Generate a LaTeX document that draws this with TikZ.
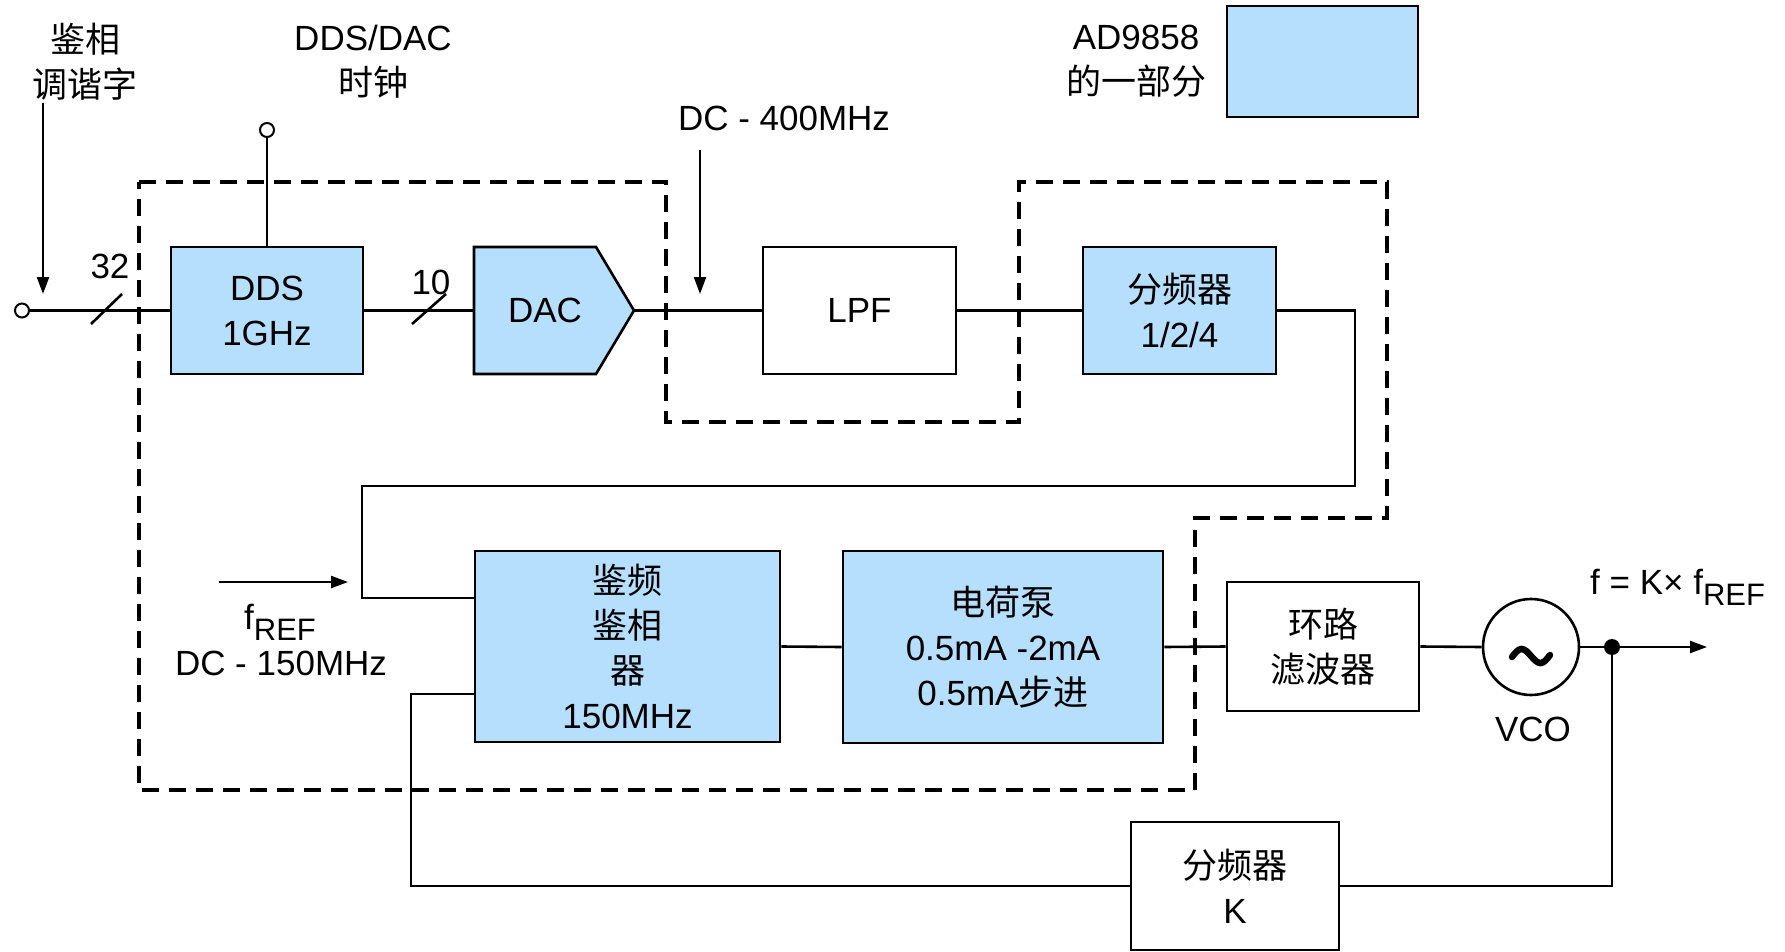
\documentclass[tikz,border=0pt]{standalone}
\usepackage{fontspec}
\setmainfont{Liberation Sans}
\newfontfamily\cjk{Noto Sans CJK SC}
\usetikzlibrary{arrows.meta}
\definecolor{adiblue}{RGB}{181,223,252}
\newcommand\subtxt[1]{\raisebox{-11pt}{\fontsize{31}{31}\selectfont #1}}
\begin{document}
\begin{tikzpicture}[x=1pt,y=-1pt,
  font=\fontsize{35}{45}\selectfont,
  wire/.style={line width=2.6pt},
  arr/.style={line width=2.2pt,-{Triangle[length=17pt,width=12pt]}},
  blk/.style={draw,line width=2.6pt,fill=adiblue,inner sep=0pt,align=center},
  wblk/.style={draw,line width=2.6pt,fill=white,inner sep=0pt,align=center},
  bound/.style={line width=3.5pt,dash pattern=on 17pt off 10pt},
  lbl/.style={inner sep=0pt,align=center},
  term/.style={circle,draw,line width=2pt,fill=white,minimum size=14pt,inner sep=0pt}
]
\useasboundingbox[fill=white] (0,0) rectangle (1785,952);

% AD9858 boundary
\draw[bound] (139,182) -- (666,182) -- (666,422) -- (1019,422) -- (1019,182)
  -- (1387,182) -- (1387,518) -- (1195,518) -- (1195,790) -- (139,790) -- cycle;

% blocks
\node[blk,minimum width=192pt,minimum height=127pt] (dds) at (267,310.5) {DDS\\1GHz};
\draw[line width=2.6pt,fill=adiblue] (474,247) -- (596,247) -- (634,310.5) -- (596,374) -- (474,374) -- cycle;
\node[lbl] (dac) at (545,310.5) {DAC};
\coordinate (dacin) at (474,310.5);
\coordinate (dacout) at (634,310.5);
\node[wblk,minimum width=193pt,minimum height=127pt] (lpf) at (859.5,310.5) {LPF};
\node[blk,minimum width=193pt,minimum height=127pt] (div) at (1179.5,310.5) {{\cjk 分频器}\\1/2/4};
\node[blk,minimum width=305pt,minimum height=191pt] (pfd) at (627.5,646.5) {{\cjk 鉴频}\\{\cjk 鉴相}\\{\cjk 器}\\150MHz};
\node[blk,minimum width=320pt,minimum height=192pt] (cp) at (1003,647) {{\cjk 电荷泵}\\0.5mA -2mA\\0.5mA{\cjk 步进}};
\node[wblk,minimum width=192pt,minimum height=129pt] (lf) at (1323,646.5) {{\cjk 环路}\\{\cjk 滤波器}};
\node[circle,draw,line width=2.6pt,minimum size=96pt,inner sep=0pt] (vco) at (1531,647) {};
\draw[line width=6.5pt,line cap=round] (1512,657) sin (1521.5,649) cos (1531,656) sin (1540.5,663) cos (1550,655);
\node[wblk,minimum width=208pt,minimum height=128pt] (divk) at (1235,886) {{\cjk 分频器}\\K};
\node[blk,minimum width=191pt,minimum height=111pt] (legend) at (1322.5,61.5) {};

% labels
\node[lbl] (twlbl) at (85,61.5) {{\cjk 鉴相}\\{\cjk 调谐字}};
\node[lbl] (clklbl) at (373,61.5) {DDS/DAC\\{\cjk 时钟}};
\node[lbl] (adlbl) at (1136,61.5) {AD9858\\{\cjk 的一部分}};
\node[lbl] (dc400) at (784,118) {DC - 400MHz};
\node[lbl,anchor=base west] (freflbl) at (244,629) {f\subtxt{REF}};
\node[lbl,anchor=base] (dc150) at (281,675) {DC - 150MHz};
\node[lbl,anchor=base west] (outlbl) at (1590,594) {f = K\texttimes{} f\subtxt{REF}};
\node[lbl] (vcolbl) at (1533,729) {VCO};
\node[lbl] (n32) at (110,266) {32};
\node[lbl] (n10) at (431,282) {10};

% terminals
\node[term] (inp) at (22,310.5) {};
\node[term] (clk) at (267,130) {};

% wires
\draw[wire] (inp) -- (dds.west);
\draw[wire] (91,324) -- (122,294);
\draw[wire] (clk) -- (dds.north);
\draw[wire] (dds.east) -- (dacin);
\draw[wire] (412,324) -- (446,294);
\draw[wire] (dacout) -- (lpf.west);
\draw[wire] (lpf.east) -- (div.west);
\coordinate (r1) at (1355,310.5);
\coordinate (r2) at (1355,486);
\coordinate (r3) at (362,486);
\coordinate (r4) at (362,598);
\draw[wire] (div.east) -- (r1) -- (r2) -- (r3) -- (r4) -- (pfd.west |- r4);
\draw[wire] (pfd.east) -- (cp.west);
\draw[wire] (cp.east) -- (lf.west);
\draw[wire] (lf.east) -- (vco.west);
\node[circle,fill,minimum size=16pt,inner sep=0pt] (dot) at (1612,647) {};
\coordinate (out) at (1707,647);
\draw[wire] (vco.east) -- (dot);
\draw[arr] (dot) -- (out);
\draw[wire] (dot) |- (divk.east);
\coordinate (fb1) at (411,886);
\coordinate (fb2) at (411,694);
\draw[wire] (divk.west) -- (fb1) -- (fb2) -- (pfd.west |- fb2);

% arrows
\coordinate (twa) at (43,103);
\coordinate (twb) at (43,294);
\draw[arr] (twa) -- (twb);
\coordinate (dca) at (700,150);
\coordinate (dcb) at (700,294);
\draw[arr] (dca) -- (dcb);
\coordinate (fra) at (219,582);
\coordinate (frb) at (348,582);
\draw[arr] (fra) -- (frb);
\end{tikzpicture}
\end{document}
